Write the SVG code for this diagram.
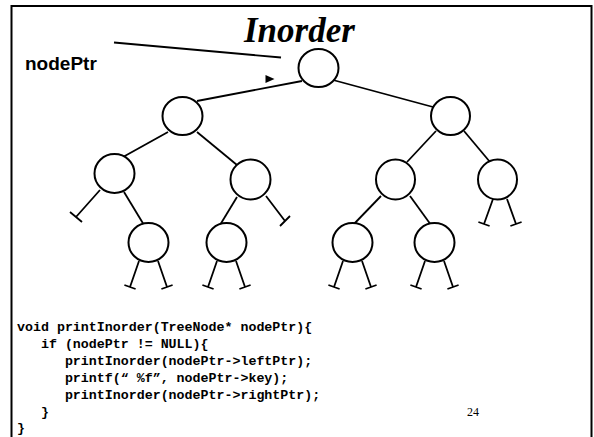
<svg xmlns="http://www.w3.org/2000/svg" width="594" height="437" viewBox="0 0 594 437">
  <style>
    .edge { stroke: #000; stroke-width: 1.8; fill: none; stroke-linecap: butt; }
    .node { fill: #fff; stroke: #000; stroke-width: 2; }
    .code { font-family: "Liberation Mono", "Courier New", monospace; font-weight: bold; font-size: 13.3px; fill: #000; white-space: pre; }
  </style>
  <rect width="594" height="437" fill="#fff"/>
  <!-- slide frame (open at the bottom) -->
  <rect x="11.5" y="6" width="580" height="480" fill="none" stroke="#000" stroke-width="2"/>

  <text x="244" y="42" font-family="'Liberation Serif', 'Times New Roman', serif" font-weight="bold" font-style="italic" font-size="35">Inorder</text>
  <text id="label-nodePtr" x="25" y="70" font-family="'Liberation Sans', Arial, sans-serif" font-weight="bold" font-size="19">nodePtr</text>

  <g id="connectors">
    <!-- pointer line and its head -->
    <line class="edge" x1="114" y1="42.5" x2="281" y2="57.5"/>
    <polygon points="265.5,75 274.5,79 265.5,83" fill="#000"/>
    <!-- tree links -->
    <line class="edge" x1="197" y1="101" x2="302" y2="81"/>
    <line class="edge" x1="333" y1="80" x2="433" y2="107"/>
    <line class="edge" x1="168" y1="132" x2="123" y2="157"/>
    <line class="edge" x1="197" y1="132" x2="237" y2="165"/>
    <line class="edge" x1="436" y1="131" x2="407" y2="162"/>
    <line class="edge" x1="464" y1="131" x2="490" y2="162"/>
    <line class="edge" x1="124" y1="192" x2="144" y2="225"/>
    <line class="edge" x1="237" y1="197" x2="220" y2="225"/>
    <line class="edge" x1="381" y1="196" x2="353" y2="225"/>
    <line class="edge" x1="410" y1="196" x2="431" y2="225"/>
    <!-- null links -->
    <path class="edge" d="M100,190 L76,217 M70,212 L82,222"/>
    <path class="edge" d="M266,196 L285,221 M280,226 L290,216"/>
    <path class="edge" d="M493,199 L484,224 M478.4,222 L489.6,226"/>
    <path class="edge" d="M507,199 L516,224 M510.4,226 L521.6,222"/>
    <path class="edge" d="M139,261 L130,287 M124.4,285 L135.6,289 M158,261 L167,287 M161.4,289 L172.6,285"/>
    <path class="edge" d="M217,261 L208,287 M202.4,285 L213.6,289 M236,261 L245,287 M239.4,289 L250.6,285"/>
    <path class="edge" d="M343,261 L334,287 M328.4,285 L339.6,289 M362,261 L371,287 M365.4,289 L376.6,285"/>
    <path class="edge" d="M425,261 L416,287 M410.4,285 L421.6,289 M444,261 L453,287 M447.4,289 L458.6,285"/>
  </g>

  <g id="n-root"><ellipse class="node" cx="318.5" cy="68" rx="20" ry="19"/></g>
  <g id="n-l"><ellipse class="node" cx="182.5" cy="116" rx="20" ry="19"/></g>
  <g id="n-r"><ellipse class="node" cx="450.5" cy="116" rx="19.5" ry="19"/></g>
  <g id="n-ll"><ellipse class="node" cx="114.5" cy="173.5" rx="20" ry="19.5"/></g>
  <g id="n-lr"><ellipse class="node" cx="250.5" cy="179.5" rx="20" ry="20"/></g>
  <g id="n-rl"><ellipse class="node" cx="395.5" cy="179.5" rx="19.5" ry="20"/></g>
  <g id="n-rr"><ellipse class="node" cx="497.5" cy="179.5" rx="19.5" ry="20"/></g>
  <g id="n-llr"><ellipse class="node" cx="148.5" cy="242.5" rx="20" ry="19.5"/></g>
  <g id="n-lrl"><ellipse class="node" cx="226.5" cy="242.5" rx="20" ry="19.5"/></g>
  <g id="n-rll"><ellipse class="node" cx="352.5" cy="242.5" rx="20" ry="19.5"/></g>
  <g id="n-rlr"><ellipse class="node" cx="434.5" cy="242.5" rx="20" ry="19.5"/></g>

  <g id="code">
    <text class="code" x="17" y="331">void printInorder(TreeNode* nodePtr){</text>
    <text class="code" x="17" y="348">   if (nodePtr != NULL){</text>
    <text class="code" x="17" y="365">      printInorder(nodePtr-&gt;leftPtr);</text>
    <text class="code" x="17" y="382">      printf(“ %f”, nodePtr-&gt;key);</text>
    <text class="code" x="17" y="399">      printInorder(nodePtr-&gt;rightPtr);</text>
    <text class="code" x="17" y="416">   }</text>
    <text class="code" x="17" y="432">}</text>
  </g>
  <text x="467" y="416" font-family="'Liberation Serif', 'Times New Roman', serif" font-size="12">24</text>
</svg>
